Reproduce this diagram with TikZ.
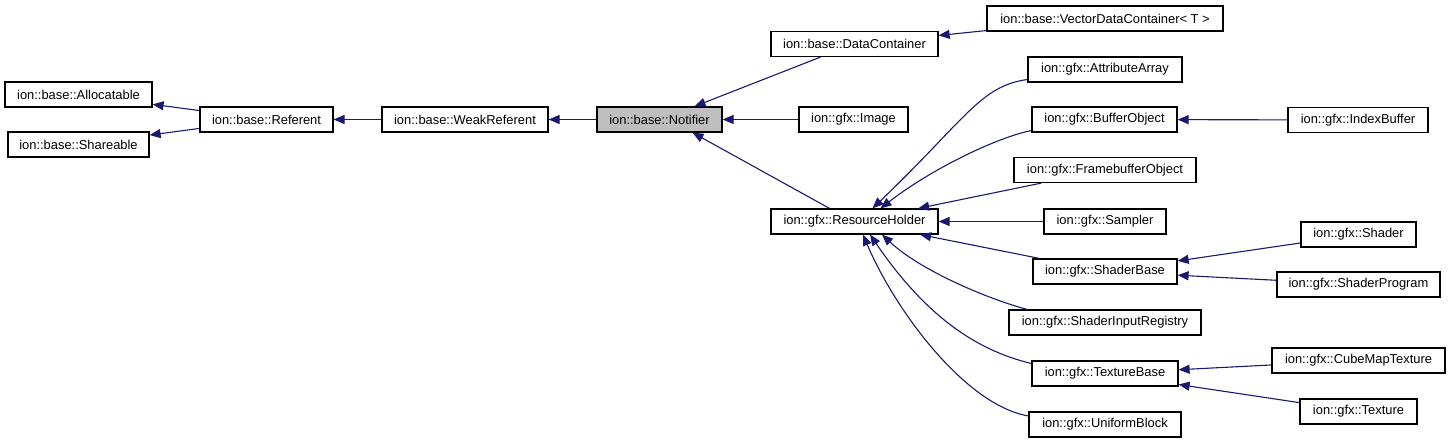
\documentclass[tikz,border=0pt]{standalone}
\usepackage{fontspec}
\setmainfont{Liberation Sans}
\usetikzlibrary{arrows.meta}
\definecolor{edgeblue}{HTML}{191970}
\definecolor{hilite}{HTML}{BFBFBF}
\tikzset{
  cls/.style={draw=black, line width=1.2pt, fill=white, minimum height=25pt, inner sep=0pt,
    font=\fontsize{12.9}{15}\selectfont},
  edge/.style={draw=edgeblue, line width=1.1pt, -{Triangle[length=11pt,width=9pt]}},
}
\begin{document}
\begin{tikzpicture}[x=1pt,y=-1pt]
\useasboundingbox (0,0) rectangle (1451,443);
% nodes
\node[cls, minimum width=147pt] (alloc) at (78.5,94.5) {ion::base::Allocatable};
\node[cls, minimum width=141pt] (share) at (78.5,144.5) {ion::base::Shareable};
\node[cls, minimum width=133pt] (ref) at (266.5,119.5) {ion::base::Referent};
\node[cls, minimum width=166pt] (weak) at (465,119.5) {ion::base::WeakReferent};
\node[cls, minimum width=125pt, fill=hilite] (notif) at (659.5,119.5) {ion::base::Notifier};
\node[cls, minimum width=167pt] (dc) at (854.5,44) {ion::base::DataContainer};
\node[cls, minimum width=236pt] (vdc) at (1105,18.5) {ion::base::VectorDataContainer< T >};
\node[cls, minimum width=154pt] (aa) at (1105,69.5) {ion::gfx::AttributeArray};
\node[cls, minimum width=109pt] (img) at (853.5,119.5) {ion::gfx::Image};
\node[cls, minimum width=145pt] (bo) at (1104.5,119.5) {ion::gfx::BufferObject};
\node[cls, minimum width=140pt] (ib) at (1358,120) {ion::gfx::IndexBuffer};
\node[cls, minimum width=182pt] (fbo) at (1105,170) {ion::gfx::FramebufferObject};
\node[cls, minimum width=167pt] (rh) at (854.5,221.5) {ion::gfx::ResourceHolder};
\node[cls, minimum width=122pt] (samp) at (1105,221.5) {ion::gfx::Sampler};
\node[cls, minimum width=144pt] (sb) at (1105,271.5) {ion::gfx::ShaderBase};
\node[cls, minimum width=115pt] (shader) at (1358.5,234.5) {ion::gfx::Shader};
\node[cls, minimum width=163pt] (sp) at (1358.5,284.5) {ion::gfx::ShaderProgram};
\node[cls, minimum width=192pt] (sir) at (1105,322.5) {ion::gfx::ShaderInputRegistry};
\node[cls, minimum width=146pt] (tb) at (1105,373.5) {ion::gfx::TextureBase};
\node[cls, minimum width=152pt] (ub) at (1105,424.5) {ion::gfx::UniformBlock};
\node[cls, minimum width=173pt] (cmt) at (1358.5,360.5) {ion::gfx::CubeMapTexture};
\node[cls, minimum width=117pt] (tex) at (1358.5,411.5) {ion::gfx::Texture};
% edges (child -> parent)
\draw[edge] (ref) -- (alloc);
\draw[edge] (ref) -- (share);
\draw[edge] (weak) -- (ref);
\draw[edge] (notif) -- (weak);
\draw[edge] ([xshift=-34pt]dc.south) -- ([xshift=35pt]notif.north);
\draw[edge] (img) -- (notif);
\draw[edge] ([xshift=-25pt]rh.north) -- ([xshift=33pt]notif.south);
\draw[edge] (vdc) -- (dc);
\draw[edge] (ib) -- (bo);
\draw[edge] ([yshift=-10pt]aa.west) .. controls (980,86) and (965,120) .. ([xshift=18pt]rh.north);
\draw[edge] ([yshift=-11pt]bo.west) .. controls (995,138) and (930,170) .. ([xshift=26pt]rh.north);
\draw[edge] (fbo) -- (rh);
\draw[edge] (samp) -- (rh);
\draw[edge] (sb) -- (rh);
\draw[edge] ([xshift=-78pt]sir.north) .. controls (985,298) and (920,270) .. ([xshift=27.5pt]rh.south);
\draw[edge] ([yshift=10pt]tb.west) .. controls (975,350) and (925,315) .. ([xshift=15.5pt]rh.south);
\draw[edge] ([yshift=8.5pt]ub.west) .. controls (965,405) and (895,310) .. ([xshift=8.5pt]rh.south);
\draw[edge] (shader) -- (sb);
\draw[edge] (sp) -- (sb);
\draw[edge] (cmt) -- (tb);
\draw[edge] (tex) -- (tb);
\end{tikzpicture}
\end{document}
